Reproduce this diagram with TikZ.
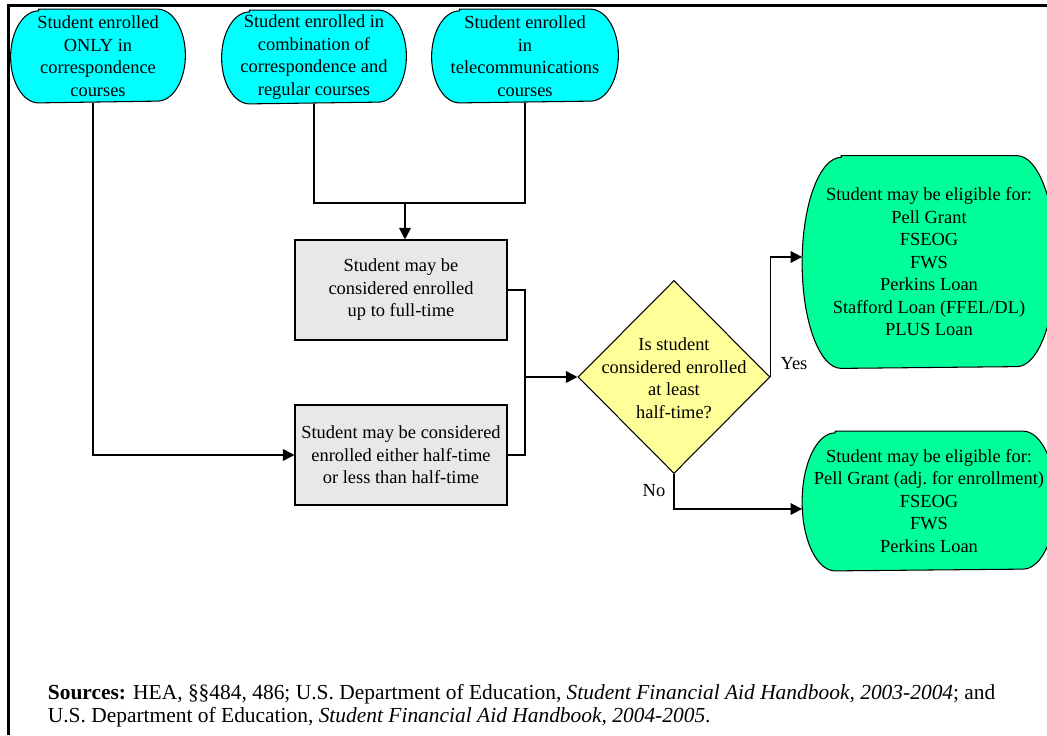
\documentclass[tikz,border=0pt]{standalone}
\usepackage{fontspec}
\setmainfont{Liberation Serif}
\usepackage{tikz}
\usetikzlibrary{shapes.geometric}
\usetikzlibrary{arrows.meta}
\usetikzlibrary{backgrounds}
\usepackage{xcolor}
\definecolor{cyanfill}{RGB}{0,255,255}
\definecolor{greenfill}{RGB}{0,255,153}
\definecolor{greyfill}{RGB}{232,232,232}
\definecolor{yellowfill}{RGB}{255,255,153}

\tikzset{
  txt/.style={font=\fontsize{10.5}{12.8}\selectfont, align=center, inner sep=0pt},
  term/.style={txt, rectangle, minimum height=18.4mm},
  elig/.style={txt, rectangle, minimum width=50.4mm},
  greybox/.style={txt, rectangle, draw, fill=greyfill, line width=0.6pt, minimum width=42.4mm, minimum height=20mm},
  decide/.style={diamond, draw, fill=yellowfill, line width=0.6pt, inner sep=0pt, minimum width=38.4mm, minimum height=38.6mm},
  flow/.style={-{Triangle[length=2.3mm,width=2.3mm]}},
  outline/.style={draw, line width=0.6pt},
}

\begin{document}
\begin{tikzpicture}[x=0.2mm,y=0.2mm,line width=1pt]
  \useasboundingbox (0,0) rectangle (1047,-735);

  % frame
  \coordinate (frameBL) at (8,-735);
  \coordinate (frameTL) at (8,-5);
  \coordinate (frameTR) at (1047,-5);
  \draw[line width=0.6mm] (frameBL) -- (frameTL) -- (frameTR);

  \node[term,minimum width=34.6mm] at (98,-56) (onlyCorr) {Student enrolled\\ONLY in\\correspondence\\courses};
  \node[term,minimum width=36.6mm] at (314,-57) (combCorr) {Student enrolled in\\combination of\\correspondence and\\regular courses};
  \node[term,minimum width=37mm] at (525,-56) (teleComm) {Student enrolled\\in\\telecommunications\\courses};

  \node[greybox] at (401,-290) (upFull) {Student may be\\considered enrolled\\up to full-time};
  \node[greybox] at (401,-455) (halfLess) {Student may be considered\\enrolled either half-time\\or less than half-time};

  \node[decide] at (674,-377) (halfQ) {};
  \node[txt] at (674,-378) (halfQtext) {Is student\\considered enrolled\\at least\\half-time?};

  \node[elig,minimum height=42.2mm] at (929,-262) (eligAll) {Student may be eligible for:\\Pell Grant\\FSEOG\\FWS\\Perkins Loan\\Stafford Loan (FFEL/DL)\\PLUS Loan};
  \node[elig,minimum height=27.6mm] at (929,-501) (eligPart) {Student may be eligible for:\\Pell Grant (adj.\ for enrollment)\\FSEOG\\FWS\\Perkins Loan};

  % rounded ends behind the text
  \begin{scope}[on background layer]
    \foreach \nd/\rx/\ry/\fc in {onlyCorr/5.6mm/9.2mm/cyanfill, combCorr/5.6mm/9.2mm/cyanfill,
        teleComm/5.6mm/9.2mm/cyanfill, eligAll/7.8mm/21.1mm/greenfill, eligPart/6.6mm/13.8mm/greenfill}
      \path[outline,fill=\fc] ([xshift=\rx]\nd.north west) -- ([xshift=-\rx]\nd.north east)
        arc[start angle=90,end angle=-90,x radius=\rx,y radius=\ry]
        -- ([xshift=\rx]\nd.south west)
        arc[start angle=270,end angle=90,x radius=\rx,y radius=\ry] -- cycle;
  \end{scope}

  \coordinate (mergeTop) at (405,-203);
  \coordinate (mergeMid) at (525,-377);

  \draw[flow] ([xshift=-1mm]onlyCorr.south) |- (halfLess.west);
  \draw (combCorr.south) |- (mergeTop) -| (teleComm.south);
  \draw[flow] (mergeTop) -- (mergeTop |- upFull.north);
  \draw (upFull.east) -| (mergeMid);
  \draw (halfLess.east) -| (mergeMid);
  \draw[flow] (mergeMid) -- (halfQ.west);
  \draw[flow] (halfQ.east) |- ([yshift=1mm]eligAll.west);
  \draw[flow] (halfQ.south) |- ([yshift=-1.6mm]eligPart.west);

  \node[txt] at (794,-364) (yesLbl) {Yes};
  \node[txt] at (654,-491) (noLbl) {No};

  \node[anchor=west,align=left,inner sep=0pt,font=\fontsize{12.2}{13.2}\selectfont] at (47,-706) (sources)
    {\textbf{Sources:} HEA, §§484, 486; U.S. Department of Education, \textit{Student Financial Aid Handbook, 2003-2004}; and\\
     U.S. Department of Education, \textit{Student Financial Aid Handbook, 2004-2005}.};
\end{tikzpicture}
\end{document}
